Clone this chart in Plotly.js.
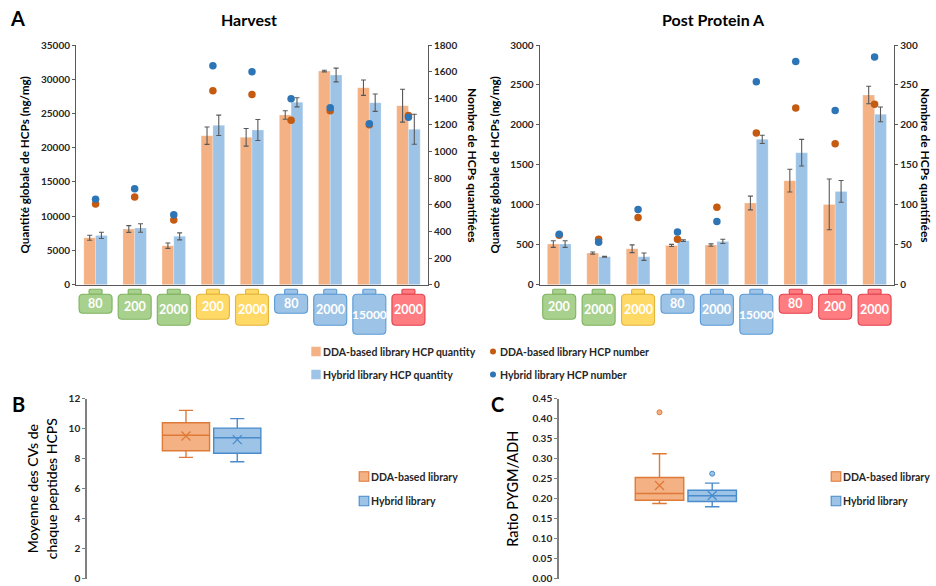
<!DOCTYPE html>
<html>
<head>
<meta charset="utf-8">
<script src="https://cdn.plot.ly/plotly-3.0.1.min.js"></script>
<style>html,body{margin:0;padding:0;background:#fff}#chart{width:936px;height:586px}</style>
</head>
<body>
<div id="chart"></div>
<script>
// ---- Panel A : Harvest
const harvestVialVolumes = ['80','200','2000','200','2000','80','2000','15000','2000'];
const harvestVialTypes   = ['green','green','green','yellow','yellow','blue','blue','blue','red'];
const harvestDdaQuantity    = [6860,8130,5700,21760,21520,24780,31200,28770,26140];
const harvestDdaQuantityErr = [365,490,390,1265,1290,630,120,1120,2400];
const harvestHybQuantity    = [7200,8280,7060,23270,22590,26630,30620,26580,22690];
const harvestHybQuantityErr = [460,630,510,1485,1530,660,1000,1265,2190];
const harvestDdaNumber = [606,658,486,1457,1429,1234,1307,1201,1270];
const harvestHybNumber = [641,721,526,1645,1600,1397,1329,1209,1257];

// ---- Panel A : Post Protein A
const ppaVialVolumes = ['200','2000','2000','80','2000','15000','80','200','2000'];
const ppaVialTypes   = ['green','green','yellow','blue','blue','blue','red','red','red'];
const ppaDdaQuantity    = [509,396,450,492,496,1022,1302,1005,2374];
const ppaDdaQuantityErr = [42,13,48,13,15,86,142,317,110];
const ppaHybQuantity    = [509,350,350,551,542,1819,1652,1168,2132];
const ppaHybQuantityErr = [42,6,46,10,27,52,167,136,92];
const ppaDdaNumber = [62,57,84,57,97,190,221,176.5,226];
const ppaHybNumber = [63,53,94,66,79,254,279.5,218,285];

// ---- Panel B : boxes [DDA, Hybrid]
const cvLower  = [8.09,7.80];
const cvQ1     = [8.53,8.36];
const cvMedian = [9.56,9.40];
const cvQ3     = [10.40,10.04];
const cvUpper  = [11.22,10.67];
const cvMean   = [9.51,9.27];

// ---- Panel C : boxes [DDA, Hybrid]
const ratioLower   = [0.188,0.180];
const ratioQ1      = [0.196,0.193];
const ratioMedian  = [0.213,0.2075];
const ratioQ3      = [0.253,0.221];
const ratioUpper   = [0.3125,0.239];
const ratioMean    = [0.233,0.208];
const ratioOutlier = [0.416,0.2625];

// ---- Names and text
const seriesNames = ['DDA-based library HCP quantity','Hybrid library HCP quantity','DDA-based library HCP number','Hybrid library HCP number'];
const boxNames = ['DDA-based library','Hybrid library'];
const titleQuantity = 'Quantité globale de HCPs (ng/mg)';
const titleNumber = 'Nombre de HCPs quantifiées';

// ---- Style
const W = 936, H = 586;
const FONT = 'Lato, "Open Sans", sans-serif';
const INK = '#262626';
const ORANGE = '#F4B183', BLUE = '#9DC3E6', DORANGE = '#C55A11', DBLUE = '#2E75B6';
const BOXO = '#DD7A38', BOXB = '#4A8CCB';
const vialFill = {green:'#A9D18E', yellow:'#FFD966', blue:'#9DC3E6', red:'#FF7C80'};
const vialLine = {green:'#7DB35F', yellow:'#E3B53B', blue:'#5B9BD5', red:'#E2424C'};
const vialHeight = {'80':19,'200':25,'2000':31,'15000':40};
const px = v => v / W;
const py = v => 1 - v / H;

const idx = harvestDdaQuantity.map((_, i) => i);

function barTrace(name, y, err, color, xa, ya, show) {
  return {type:'bar', name, x:idx, y, xaxis:xa, yaxis:ya, showlegend:show, legend:'legend', legendgroup:name,
    marker:{color, line:{color:'rgba(255,255,255,0.5)', width:0.5}},
    error_y:{type:'data', array:err, visible:true, color:'#595959', thickness:1.1, width:2.5},
    hoverinfo:'y'};
}
function dotTrace(name, y, color, xa, ya, show) {
  return {type:'scatter', mode:'markers', name, x:idx, y, xaxis:xa, yaxis:ya, showlegend:show, legend:'legend2', legendgroup:name,
    marker:{color, size:7.5}, hoverinfo:'y'};
}
function boxTrace(name, i, lo, q1, med, q3, up, fill, line, xa, ya, legend) {
  return {type:'box', name, x:[i], lowerfence:[lo[i]], q1:[q1[i]], median:[med[i]], q3:[q3[i]], upperfence:[up[i]],
    xaxis:xa, yaxis:ya, width:0.92, whiskerwidth:0.3, fillcolor:fill, line:{color:line, width:1.4},
    boxpoints:false, legend, legendgroup:name, showlegend:true, hoverinfo:'y'};
}
function meanTrace(i, mean, color, xa, ya) {
  return {type:'scatter', mode:'markers', x:[i], y:[mean[i]], xaxis:xa, yaxis:ya, showlegend:false,
    marker:{symbol:'x-thin', size:9, line:{color, width:1.3}}, hoverinfo:'y'};
}
function outlierTrace(i, vals, fill, line, xa, ya) {
  return {type:'scatter', mode:'markers', x:[i], y:[vals[i]], xaxis:xa, yaxis:ya, showlegend:false,
    marker:{size:5, color:fill, line:{color:line, width:1}}, hoverinfo:'y'};
}

const data = [
  barTrace(seriesNames[0], harvestDdaQuantity, harvestDdaQuantityErr, ORANGE, 'x', 'y', true),
  barTrace(seriesNames[1], harvestHybQuantity, harvestHybQuantityErr, BLUE, 'x', 'y', true),
  dotTrace(seriesNames[2], harvestDdaNumber, DORANGE, 'x', 'y2', true),
  dotTrace(seriesNames[3], harvestHybNumber, DBLUE, 'x', 'y2', true),
  barTrace(seriesNames[0], ppaDdaQuantity, ppaDdaQuantityErr, ORANGE, 'x2', 'y3', false),
  barTrace(seriesNames[1], ppaHybQuantity, ppaHybQuantityErr, BLUE, 'x2', 'y3', false),
  dotTrace(seriesNames[2], ppaDdaNumber, DORANGE, 'x2', 'y4', false),
  dotTrace(seriesNames[3], ppaHybNumber, DBLUE, 'x2', 'y4', false),
  boxTrace(boxNames[0], 0, cvLower, cvQ1, cvMedian, cvQ3, cvUpper, ORANGE, BOXO, 'x3', 'y5', 'legend3'),
  boxTrace(boxNames[1], 1, cvLower, cvQ1, cvMedian, cvQ3, cvUpper, BLUE, BOXB, 'x3', 'y5', 'legend3'),
  meanTrace(0, cvMean, BOXO, 'x3', 'y5'),
  meanTrace(1, cvMean, BOXB, 'x3', 'y5'),
  boxTrace(boxNames[0], 0, ratioLower, ratioQ1, ratioMedian, ratioQ3, ratioUpper, ORANGE, BOXO, 'x4', 'y6', 'legend4'),
  boxTrace(boxNames[1], 1, ratioLower, ratioQ1, ratioMedian, ratioQ3, ratioUpper, BLUE, BOXB, 'x4', 'y6', 'legend4'),
  meanTrace(0, ratioMean, BOXO, 'x4', 'y6'),
  meanTrace(1, ratioMean, BOXB, 'x4', 'y6'),
  outlierTrace(0, ratioOutlier, ORANGE, BOXO, 'x4', 'y6'),
  outlierTrace(1, ratioOutlier, BLUE, BOXB, 'x4', 'y6')
];

function rrect(x0, y0, x1, y1, r) {
  return `M${x0+r},${y0}L${x1-r},${y0}Q${x1},${y0} ${x1},${y0+r}L${x1},${y1-r}Q${x1},${y1} ${x1-r},${y1}L${x0+r},${y1}Q${x0},${y1} ${x0},${y1-r}L${x0},${y0+r}Q${x0},${y0} ${x0+r},${y0}Z`;
}
const AXIS_BOTTOM = 284.7;
const shapes = [], annotations = [];
function addVials(vols, types, xref, yref) {
  vols.forEach((v, i) => {
    const t = types[i], h = vialHeight[v];
    const common = {type:'path', xref, yref:'paper', xsizemode:'pixel', ysizemode:'pixel', xanchor:i, yanchor:py(AXIS_BOTTOM),
      fillcolor:vialFill[t], line:{color:vialLine[t], width:1.1}, layer:'above'};
    shapes.push(Object.assign({}, common, {path:rrect(-6.5,-9.5,6.5,-4.5,1)}));
    shapes.push(Object.assign({}, common, {path:rrect(-16.5,-9.5-h,16.5,-9.5,4)}));
    annotations.push({text:v, x:i, y:0, xref, yref, showarrow:false, yshift:-(9.5 + h/2),
      font:{family:FONT, size:v === '15000' ? 12 : 12.5, color:'#fff', weight:700}});
  });
}
addVials(harvestVialVolumes, harvestVialTypes, 'x', 'y');
addVials(ppaVialVolumes, ppaVialTypes, 'x2', 'y3');

function label(text, x, y, size, extra) {
  annotations.push(Object.assign({text, x:px(x), y:py(y), xref:'paper', yref:'paper', showarrow:false,
    xanchor:'center', yanchor:'middle', font:{family:FONT, size, color:'#000', weight:700}}, extra || {}));
}
label('A', 17, 18, 20);
label('B', 18, 404, 20);
label('C', 497, 404, 20);
label('Harvest', 249, 19, 16);
label('Post Protein A', 713, 19, 16);
label(titleNumber, 473, 165, 12, {textangle:90});
label(titleNumber, 926, 165, 12, {textangle:90});

const tickFont = {family:FONT, size:10, color:INK, weight:700};
function yAxis(top, bottom, range, dtick, titleText, titleSize, standoff, extra) {
  return Object.assign({domain:[py(bottom), py(top)], range, dtick, showgrid:false, zeroline:false, showline:true,
    linecolor:'#595959', linewidth:1, ticks:'outside', ticklen:3, tickcolor:'#595959', tickwidth:1,
    tickfont:tickFont, automargin:false, tickformat:'d',
    title:{text:titleText, standoff, font:{family:FONT, size:titleSize, color:'#000', weight:700}}}, extra || {});
}
function xAxis(left, right, range, anchor, extra) {
  return Object.assign({domain:[px(left), px(right)], range, anchor, showgrid:false, zeroline:false,
    showticklabels:false, ticks:'', automargin:false}, extra || {});
}
const lineX = {showline:true, linecolor:'#595959', linewidth:1};
const greyY = {linecolor:'#808080', linewidth:1.6, tickcolor:'#808080'};
const plainTitle = {family:FONT, size:14, color:'#000', weight:500};
const band = [-0.5, 8.5];

const legendBase = {bgcolor:'rgba(0,0,0,0)', font:{family:FONT, size:10.5, color:INK, weight:700},
  xanchor:'left', yanchor:'top', tracegroupgap:4, itemclick:false, itemdoubleclick:false, traceorder:'grouped'};

const layout = {
  width:W, height:H, margin:{l:0,r:0,t:0,b:0}, paper_bgcolor:'#fff', plot_bgcolor:'rgba(0,0,0,0)',
  barmode:'group', bargap:0.4, bargroupgap:0, boxmode:'overlay', hovermode:'closest',
  font:{family:FONT, color:INK},
  xaxis: xAxis(76, 428, band, 'y', lineX),
  yaxis: yAxis(45, AXIS_BOTTOM, [0,35000], 5000, titleQuantity, 11.7, 8),
  yaxis2: yAxis(45, AXIS_BOTTOM, [0,1800], 200, '', 10.8, 14, {overlaying:'y', side:'right', anchor:'x'}),
  xaxis2: xAxis(539.5, 894.3, band, 'y3', lineX),
  yaxis3: yAxis(45, AXIS_BOTTOM, [0,3000], 500, titleQuantity, 11.7, 8, {anchor:'x2'}),
  yaxis4: yAxis(45, AXIS_BOTTOM, [0,300], 50, '', 10.8, 14, {overlaying:'y3', side:'right', anchor:'x2'}),
  xaxis3: xAxis(87, 327, [-1.93, 2.75], 'y5', {showline:false}),
  yaxis5: yAxis(398.7, 578.7, [0,12], 2, 'Moyenne des CVs de<br>chaque peptides HCPS', 14, 8, Object.assign({anchor:'x3'}, greyY)),
  xaxis4: xAxis(559, 799, [-1.907, 2.647], 'y6', {showline:false}),
  yaxis6: yAxis(398.7, 578.7, [0,0.45], 0.05, 'Ratio PYGM/ADH', 14.5, 10, Object.assign({anchor:'x4', tickformat:'.2f'}, greyY)),
  legend:  Object.assign({}, legendBase, {x:px(283), y:py(337)}),
  legend2: Object.assign({}, legendBase, {x:px(460), y:py(337)}),
  legend3: Object.assign({}, legendBase, {x:px(331), y:py(462), tracegroupgap:5.5}),
  legend4: Object.assign({}, legendBase, {x:1, xanchor:'right', y:py(462), tracegroupgap:5.5}),
  shapes, annotations
};
layout.yaxis5.title.font = plainTitle;
layout.yaxis6.title.font = Object.assign({}, plainTitle, {size:14.5});

Plotly.newPlot('chart', data, layout, {displayModeBar:false}).then(() => {
  // Pull the swatches close to their legend text, as in the original figure.
  document.querySelectorAll('#chart .legendsymbols').forEach(g => {
    g.setAttribute('transform', 'translate(33,0) scale(0.8) translate(-20,0)');
  });
});
</script>
</body>
</html>
